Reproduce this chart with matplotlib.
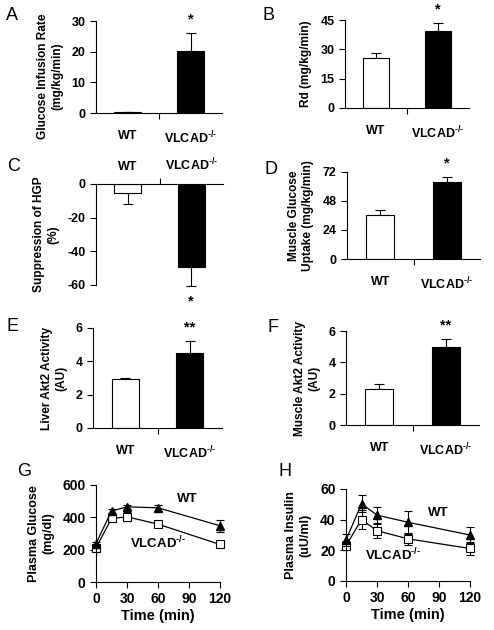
import matplotlib
matplotlib.use("Agg")
import matplotlib.pyplot as plt
import numpy as np

plt.rcParams['font.family'] = ['Liberation Sans', 'DejaVu Sans']
plt.rcParams['font.weight'] = 'bold'
plt.rcParams['axes.labelweight'] = 'bold'
plt.rcParams['axes.unicode_minus'] = False
plt.rcParams['mathtext.fontset'] = 'custom'
plt.rcParams['mathtext.rm'] = 'Liberation Sans:bold'
plt.rcParams['mathtext.bf'] = 'Liberation Sans:bold'
plt.rcParams['axes.linewidth'] = 0.8

groups = ["WT", r"VLCAD$^{\text{-/-}}$"]

# bar panels: means and SEM
gir_mean = [0.3, 20.3]
gir_err = [0.0, 5.7]
rd_mean = [25.6, 39.4]
rd_err = [2.5, 4.1]
hgp_mean = [-5.3, -49.3]
hgp_err = [6.6, 11.3]
mgu_mean = [36.4, 63.7]
mgu_err = [4.2, 4.2]
liver_mean = [2.95, 4.5]
liver_err = [0.05, 0.72]
muscle_mean = [2.3, 4.98]
muscle_err = [0.32, 0.51]

# time course panels
time = [0, 15, 30, 60, 120]
glu_wt = [238, 439, 465, 459, 348]
glu_wt_err = [12, 15, 14, 20, 38]
glu_ko = [211, 393, 403, 358, 232]
glu_ko_err = [12, 16, 28, 16, 10]
ins_wt = [26.7, 50.4, 43.0, 38.3, 30.0]
ins_wt_err = [4, 5.7, 5.0, 7.5, 5.5]
ins_ko = [23.0, 40.0, 32.8, 27.5, 21.2]
ins_ko_err = [3, 6.4, 4.6, 4.0, 4.2]

W, H = 494, 630
fig = plt.figure(figsize=(W / 100, H / 100), dpi=100)


def box(l, r, t, b):
    return [l / W, 1 - b / H, (r - l) / W, (b - t) / H]


def bar_panel(rect, mean, err, ylim, yticks, ylabel, star, letter, lpos, neg=False, ly=0.5):
    ax = fig.add_axes(box(*rect))
    x = np.arange(2)
    ax.bar(x, mean, width=0.42, color=["white", "black"], edgecolor="black", linewidth=0.8, zorder=2)
    lo = [e if neg else 0 for e in err]
    hi = [0 if neg else e for e in err]
    ax.errorbar(x, mean, yerr=[lo, hi], fmt="none", ecolor="black", elinewidth=0.8,
                capsize=3.5, capthick=0.8, clip_on=False, zorder=1)
    ax.set_xlim(-0.5, 1.5)
    ax.set_ylim(*ylim)
    ax.set_yticks(yticks)
    ax.set_xticks(x)
    ax.set_xticks([0.5], minor=True)
    ax.tick_params(axis="x", which="major", length=0, pad=12)
    ax.tick_params(axis="x", which="minor", length=4, width=0.8, direction="out")
    ax.tick_params(axis="y", length=4, width=0.8, direction="out", labelsize=9)
    ax.set_xticklabels(groups, fontsize=9, fontweight="bold")
    for t in ax.get_yticklabels():
        t.set_fontweight("bold")
    ax.spines["right"].set_visible(False)
    if neg:
        ax.spines["bottom"].set_visible(False)
        ax.xaxis.tick_top()
        ax.tick_params(axis="x", which="major", length=0, pad=8)
        ax.tick_params(axis="x", which="minor", length=4, direction="out")
    else:
        ax.spines["top"].set_visible(False)
    ax.set_ylabel(ylabel, fontsize=8.6, fontweight="bold", labelpad=6, linespacing=1.25, y=ly)
    sy = mean[1] - err[1] if neg else mean[1] + err[1]
    off = -11 if neg else 10
    ax.annotate(star, (1, sy), xytext=(0, off), textcoords="offset points",
                ha="center", va="center", fontsize=10.5, fontweight="bold", annotation_clip=False)
    fig.text(lpos[0] / W, 1 - lpos[1] / H, letter, fontsize=13, fontweight="normal",
             ha="left", va="center")
    return ax


bar_panel((96, 222, 21, 113), gir_mean, gir_err, (0, 30), [0, 10, 20, 30],
          "Glucose Infusion Rate\n(mg/kg/min)", "*", "A", (6, 16), ly=0.4)
bar_panel((345, 469, 20, 108), rd_mean, rd_err, (0, 45), [0, 15, 30, 45],
          "Rd (mg/kg/min)", "*", "B", (262, 16))
bar_panel((96, 223, 184, 285), hgp_mean, hgp_err, (-60, 0), [-60, -40, -20, 0],
          "Suppression of HGP\n(%)", "*", "C", (7, 167), neg=True)
bar_panel((347, 480, 172, 259), mgu_mean, mgu_err, (0, 72), [0, 24, 48, 72],
          "Muscle Glucose\nUptake (mg/kg/min)", "*", "D", (264, 170))
bar_panel((93, 222, 328, 428), liver_mean, liver_err, (0, 6), [0, 2, 4, 6],
          "Liver Akt2 Activity\n(AU)", "**", "E", (6, 326))
bar_panel((346, 479, 331, 425), muscle_mean, muscle_err, (0, 6), [0, 2, 4, 6],
          "Muscle Akt2 Activity\n(AU)", "**", "F", (267, 328))


def line_panel(rect, wt, wt_err, ko, ko_err, ylim, yticks, ylabel, letter, lpos, wtpos, kopos):
    ax = fig.add_axes(box(*rect))
    ax.errorbar(time, wt, yerr=wt_err, color="black", marker="^", ms=6, mfc="black",
                lw=0.9, elinewidth=0.8, capsize=3, capthick=0.8, clip_on=False, zorder=3)
    ax.errorbar(time, ko, yerr=ko_err, color="black", marker="s", ms=5.5, mfc="white",
                mew=0.8, lw=0.9, elinewidth=0.8, capsize=3, capthick=0.8, clip_on=False, zorder=2)
    ax.set_xlim(0, 120)
    ax.set_ylim(*ylim)
    ax.set_xticks([0, 30, 60, 90, 120])
    ax.set_yticks(yticks)
    ax.tick_params(length=4, width=0.8, direction="out", labelsize=10)
    for t in ax.get_xticklabels() + ax.get_yticklabels():
        t.set_fontweight("bold")
    ax.spines["right"].set_visible(False)
    ax.spines["top"].set_visible(False)
    ax.set_ylabel(ylabel, fontsize=9, fontweight="bold", labelpad=6, linespacing=1.25)
    ax.set_xlabel("Time (min)", fontsize=10.5, fontweight="bold", labelpad=2)
    fig.text(wtpos[0] / W, 1 - wtpos[1] / H, "WT", fontsize=9.5, fontweight="bold",
             ha="left", va="center")
    fig.text(kopos[0] / W, 1 - kopos[1] / H, r"VLCAD$^{\text{-/-}}$", fontsize=9.5,
             fontweight="bold", ha="left", va="center")
    fig.text(lpos[0] / W, 1 - lpos[1] / H, letter, fontsize=13, fontweight="normal",
             ha="left", va="center")
    return ax


line_panel((96, 220, 485, 582), glu_wt, glu_wt_err, glu_ko, glu_ko_err, (0, 600),
           [0, 200, 400, 600], "Plasma Glucose\n(mg/dl)", "G", (17, 472), (177, 499), (130, 543))
line_panel((346, 470, 489, 581), ins_wt, ins_wt_err, ins_ko, ins_ko_err, (0, 60),
           [0, 20, 40, 60], "Plasma Insulin\n(uU/ml)", "H", (278, 471), (428, 513), (365, 555))

plt.savefig("out.png", dpi=100)
